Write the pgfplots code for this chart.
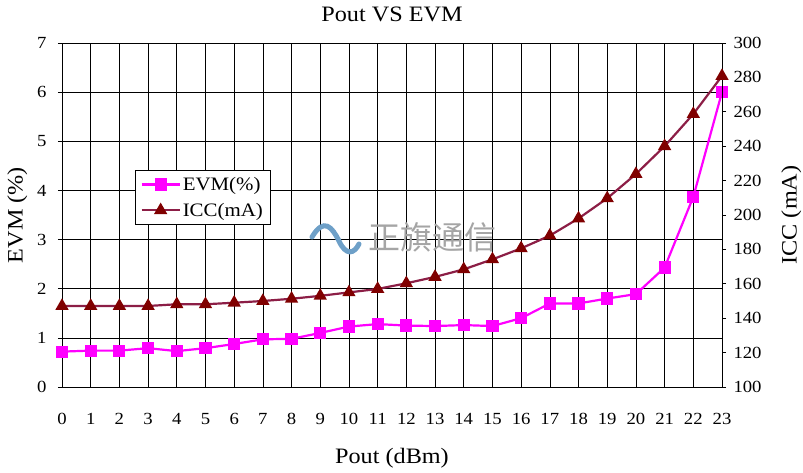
\documentclass[border=0pt]{standalone}
\usepackage{pgfplots}
\pgfplotsset{compat=1.18}
\usepackage{fontspec}
\setmainfont{Liberation Serif}[FakeStretch=1.1]
\newfontfamily\cjk{Noto Sans CJK SC}
\definecolor{evm}{RGB}{255,0,255}
\definecolor{iccline}{RGB}{140,30,70}
\definecolor{iccmark}{RGB}{128,0,0}
\definecolor{wm}{RGB}{165,165,165}
\definecolor{wmblue}{RGB}{110,160,200}
\begin{document}
\begin{tikzpicture}
\useasboundingbox (-62pt,-86pt) rectangle (741pt,387pt);
\begin{axis}[
  at={(0,0)}, anchor=south west,
  scale only axis, width=660pt, height=344pt,
  xmin=0, xmax=23, ymin=0, ymax=7,
  xtick={0,...,23}, ytick={0,...,7},
  grid=major, grid style={black, line width=0.6pt},
  axis line style={black, line width=0.8pt},
  tick style={black, line width=0.6pt},
  major tick length=4pt,
  xtick pos=bottom, ytick pos=left,
  xtick align=inside, ytick align=outside,
  /pgf/number format/assume math mode=true,
  ticklabel style={font=\fontsize{17}{17}\selectfont},
  xticklabel style={yshift=-23pt},
  yticklabel style={xshift=-8pt},
  xlabel={Pout (dBm)}, ylabel={EVM (\%)},
  label style={font=\fontsize{22}{22}\selectfont},
  xlabel style={yshift=-16pt},
  ylabel style={yshift=3pt},
  title={Pout VS EVM}, title style={font=\fontsize{22}{22}\selectfont, yshift=12pt},
  legend style={at={(0.111,0.631)}, anchor=north west, draw=black, line width=0.6pt,
     font=\fontsize{19}{19}\selectfont, row sep=7pt, inner sep=5pt},
  legend image code/.code={\draw[mark repeat=2,mark phase=2,#1] plot coordinates {(0pt,0pt) (19pt,0pt) (38pt,0pt)};},
  legend cell align=left,
  clip=false,
]
\addplot[evm, line width=2.2pt, mark=square*, mark size=5pt, mark options={fill=evm, draw=evm}] coordinates {
(0,0.72) (1,0.74) (2,0.74) (3,0.79) (4,0.73) (5,0.79) (6,0.875) (7,0.97) (8,0.98) (9,1.10) (10,1.23) (11,1.28)
(12,1.25) (13,1.24) (14,1.26) (15,1.24) (16,1.40) (17,1.70) (18,1.70) (19,1.80) (20,1.89) (21,2.43) (22,3.87) (23,6.00)};
\addlegendentry{EVM(\%)}
\addlegendimage{iccline, line width=2.2pt, mark=triangle*, mark size=5.5pt, mark options={fill=iccmark, draw=iccmark}}
\addlegendentry{ICC(mA)}
\node[text=wm, font=\cjk\fontsize{32}{32}\selectfont, anchor=west] at (axis cs:10.55,3.05) {正旗通信};
\end{axis}
\draw[wmblue, line width=5pt, line cap=round] (250pt,150pt) .. controls (262pt,170pt) and (270pt,160pt) .. (277pt,146pt) .. controls (284pt,131pt) and (292pt,133pt) .. (297pt,143pt);
\begin{axis}[
  at={(0,0)}, anchor=south west,
  scale only axis, width=660pt, height=344pt,
  xmin=0, xmax=23, ymin=100, ymax=300,
  ytick={100,120,...,300},
  axis x line=none, axis y line*=right,
  axis line style={black, line width=0.8pt},
  tick style={black, line width=0.6pt},
  major tick length=4pt, ytick align=outside,
  /pgf/number format/assume math mode=true,
  ticklabel style={font=\fontsize{17}{17}\selectfont},
  yticklabel style={xshift=4pt},
  ylabel={ICC (mA)},
  label style={font=\fontsize{22}{22}\selectfont},
  ylabel style={yshift=-13pt},
  clip=false,
]
\addplot[iccline, line width=2.2pt, mark=triangle*, mark size=5.5pt, mark options={fill=iccmark, draw=iccmark}] coordinates {
(0,147.1) (1,147.1) (2,147.1) (3,147.1) (4,148.1) (5,148.1) (6,149) (7,150) (8,151.3) (9,153) (10,155) (11,157)
(12,160.3) (13,164) (14,168.4) (15,174.2) (16,180.6) (17,188) (18,198) (19,209.7) (20,223.8) (21,240) (22,258.7) (23,280.8)};
\end{axis}
\end{tikzpicture}
\end{document}
